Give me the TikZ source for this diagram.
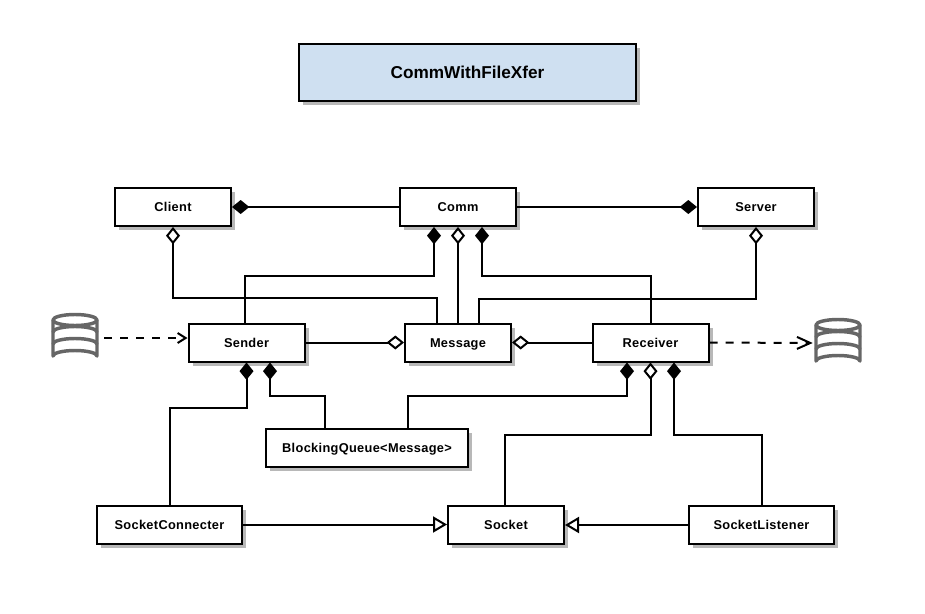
\documentclass[tikz,border=0pt]{standalone}
\usepackage{fontspec}
\setmainfont{Liberation Sans}
\usetikzlibrary{arrows.meta,calc,shadows,positioning}
\definecolor{titleblue}{HTML}{CFE0F1}
\definecolor{shadowgray}{HTML}{B8B8B8}
\definecolor{dbgray}{HTML}{666666}
\tikzset{
  x=0.75pt,y=-0.75pt,
  boxbase/.style={draw=black,line width=1.5pt,fill=white,inner sep=0pt,anchor=center,
    text height=7pt,text depth=0pt,
    font=\fontsize{9.6pt}{11pt}\selectfont\bfseries\addfontfeature{LetterSpace=2.5},
    drop shadow={shadow xshift=3pt,shadow yshift=-3pt,fill=shadowgray,opacity=1}},
  classbox/.style={boxbase,minimum width=87pt,minimum height=28.5pt},
  wide/.style={boxbase,minimum width=108.5pt,minimum height=28.5pt},
  titlebox/.style={boxbase,fill=titleblue,minimum width=252.5pt,minimum height=43pt,
    text height=9pt,
    font=\fontsize{12.9pt}{15pt}\selectfont\bfseries},
  link/.style={draw=black,line width=1.5pt},
  comp/.style={link,{Diamond[length=13pt,width=10.5pt,fill=black]}-},
  aggr/.style={link,{Diamond[length=13pt,width=10.5pt,open]}-},
  inherit/.style={link,-{Triangle[length=10.5pt,width=12pt,open]}},
  dep/.style={draw=black,line width=1.5pt,dash pattern=on 6pt off 6pt},
  depin/.style={dep,-{Straight Barb[length=6pt,width=7.5pt]}},
  depout/.style={dep,-{Straight Barb[length=10pt,width=9pt]}},
  dbicon/.style={draw=none,minimum width=34.5pt,minimum height=34.5pt,inner sep=0pt},
  dbline/.style={draw=dbgray,line width=2.6pt,line cap=round,line join=round},
}
\newcommand{\dbdraw}[1]{%
  \begin{scope}[shift={(#1)}]
    \draw[dbline] (-22,-18) arc[start angle=180,end angle=540,x radius=22,y radius=5.5];
    \draw[dbline] (-22,-18) -- (-22,18) arc[start angle=180,end angle=360,x radius=22,y radius=5.5] -- (22,-18);
    \draw[dbline] (-22,-6) arc[start angle=180,end angle=360,x radius=22,y radius=5.5];
    \draw[dbline] (-22,6) arc[start angle=180,end angle=360,x radius=22,y radius=5.5];
  \end{scope}}
\begin{document}
\begin{tikzpicture}
\useasboundingbox (0,0) rectangle (925,614);
\node[titlebox] (title) at (467.5,72.5) {CommWithFileXfer};

\node[classbox] (client) at (173,207) {Client};
\node[classbox] (comm) at (458,207) {Comm};
\node[classbox] (server) at (756,207) {Server};
\node[classbox] (sender) at (246.5,342.5) {Sender};
\node[boxbase,minimum width=79.5pt,minimum height=28.5pt] (message) at (458,342.5) {Message};
\node[classbox] (receiver) at (650.5,342.5) {Receiver};
\node[boxbase,minimum width=151pt,minimum height=28.5pt] (queue) at (367,448) {BlockingQueue<Message>};
\node[wide] (connecter) at (169.5,524.5) {SocketConnecter};
\node[classbox] (socket) at (506,525) {Socket};
\node[wide] (listener) at (761.5,525) {SocketListener};

\node[dbicon] (dbl) at (75,338) {};
\node[dbicon] (dbr) at (838,343) {};
\dbdraw{75,338}
\dbdraw{838,343}

\draw[comp] (client.east) -- (comm.west);
\draw[comp] (server.west) -- (comm.east);

\draw[aggr] (client.south) -- ($(client.south)+(0,71)$) -| ($(message.north)+(-21,0)$);
\draw[comp] ($(comm.south)+(-24,0)$) -- ($(comm.south)+(-24,49)$) -| ($(sender.north)+(-1.5,0)$);
\draw[aggr] (comm.south) -- (message.north);
\draw[comp] ($(comm.south)+(24,0)$) -- ($(comm.south)+(24,49)$) -| (receiver.north);
\draw[aggr] (server.south) -- ($(server.south)+(0,72)$) -| ($(message.north)+(21,0)$);

\draw[aggr] (message.west) -- (sender.east);
\draw[aggr] (message.east) -- (receiver.west);

\draw[comp] (sender.south) -- ($(sender.south)+(0,45)$) -| (connecter.north);
\draw[comp] ($(sender.south)+(23.5,0)$) -- ($(sender.south)+(23.5,33)$) -| ($(queue.north)+(-42,0)$);
\draw[comp] ($(receiver.south)+(-23.5,0)$) -- ($(receiver.south)+(-23.5,33)$) -| ($(queue.north)+(41,0)$);
\draw[aggr] (receiver.south) -- ($(receiver.south)+(0,72)$) -| ($(socket.north)+(-1,0)$);
\draw[comp] ($(receiver.south)+(23.5,0)$) -- ($(receiver.south)+(23.5,72)$) -| (listener.north);

\draw[inherit] (connecter.east) -- (connecter.east -| socket.west);
\draw[inherit] (listener.west) -- (socket.east);

\draw[depin] ($(dbl.east)+(6,0)$) -- (dbl.east -| sender.west);
\draw[depout] (receiver.east) -- ($(dbr.west)+(-2,0)$);
\end{tikzpicture}
\end{document}
